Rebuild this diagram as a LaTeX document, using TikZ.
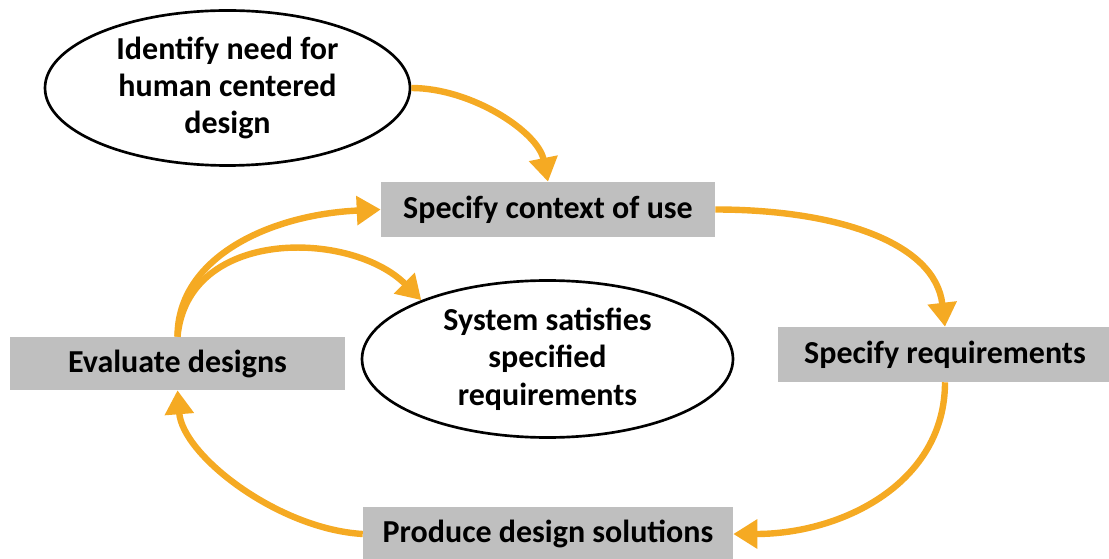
\documentclass[tikz,border=0pt]{standalone}
\usepackage{fontspec}
\setmainfont{Carlito}
\usetikzlibrary{arrows.meta,shapes.geometric}
\definecolor{arr}{RGB}{245,170,35}
\definecolor{boxgray}{RGB}{191,191,191}
\begin{document}
\begin{tikzpicture}[x=0.75pt,y=-0.75pt,
  lbl/.style={font=\bfseries\fontsize{24}{28}\selectfont, text=black},
  graybox/.style={lbl, fill=boxgray, inner sep=0pt},
  ell/.style={lbl, ellipse, draw=black, line width=2pt, align=center, inner sep=0pt},
  flow/.style={draw=arr, line width=4.8pt, -{Triangle[width=21pt,length=18pt]}}]
\useasboundingbox (0,0) rectangle (1109,559);
\node[ell, minimum width=273.75pt, minimum height=116.25pt] (e1) at (227.5,88) {Identify need for\\human centered\\design};
\node[graybox, minimum width=250.5pt, minimum height=41.25pt] (ctx) at (548,209.5) {Specify context of use};
\node[graybox, minimum width=251.25pt, minimum height=39.75pt] (eval) at (177.5,363.5) {Evaluate designs};
\node[ell, minimum width=278.25pt, minimum height=117.75pt] (e2) at (547.5,359) {System satisfies\\specified\\requirements};
\node[graybox, minimum width=250.5pt, minimum height=41.25pt] (req) at (945,354.5) {Specify requirements};
\node[graybox, minimum width=277.5pt, minimum height=40.5pt] (prod) at (548,534) {Produce design solutions};
\draw[flow] (e1.east) .. controls +(60,0) and +(-10,-50) .. (ctx.north);
\draw[flow] (ctx.east) .. controls +(120,0) and +(-10,-85) .. (req.north);
\draw[flow] (req.south) .. controls +(0,100) and +(110,0) .. (prod.east);
\draw[flow] (prod.west) .. controls +(-85,-5) and +(5,65) .. (eval.south);
\draw[flow] (eval.north) .. controls +(0,-80) and +(-110,5) .. (ctx.west);
\draw[flow] (eval.north) .. controls +(10,-110) and +(-70,-70) .. (e2.155);
\end{tikzpicture}
\end{document}
